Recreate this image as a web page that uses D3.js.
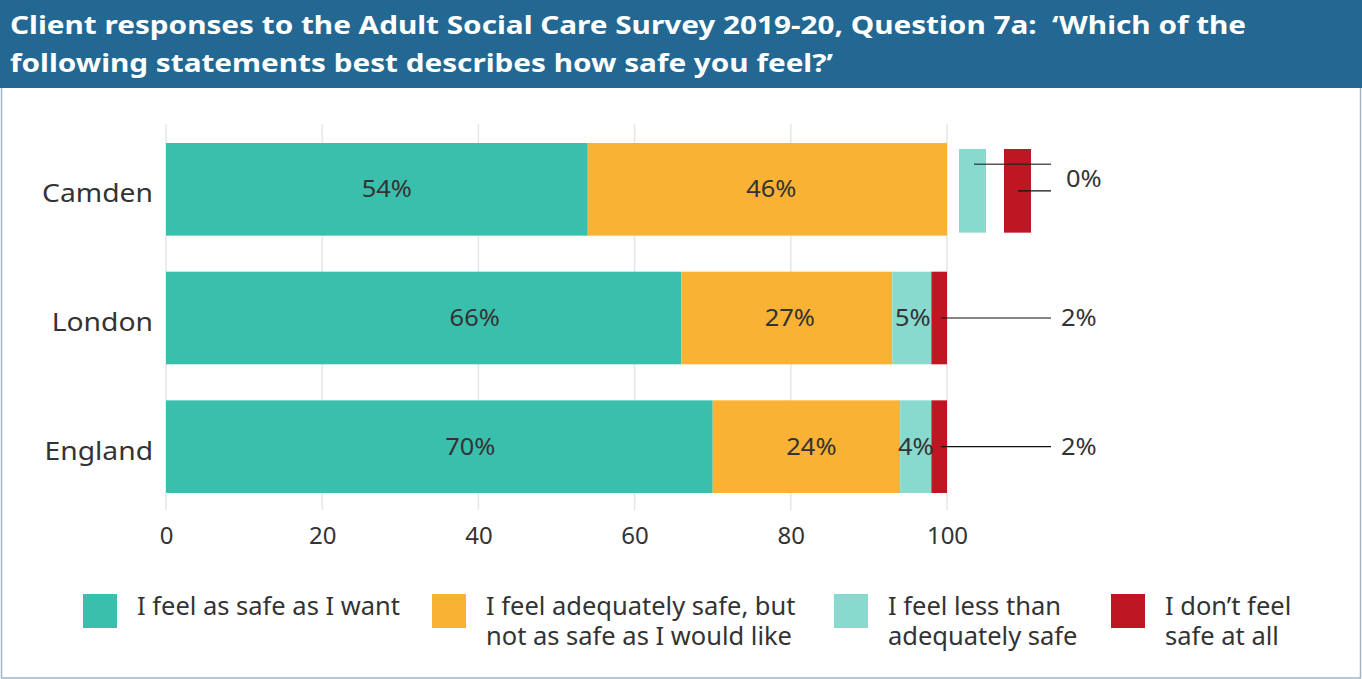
<!DOCTYPE html>
<html>
<head>
<meta charset="utf-8">
<script src="https://cdn.jsdelivr.net/npm/d3@7"></script>
<style>
  html, body { margin: 0; padding: 0; background: #fff; }
  svg { display: block; font-family: "Noto Sans", "Open Sans", sans-serif; }
</style>
</head>
<body>
<svg id="chart" width="1362" height="679"></svg>
<script>
// Survey responses, percentages per area
const areas = ["Camden", "London", "England"];
const seriesNames = [
  "I feel as safe as I want",
  "I feel adequately safe, but not as safe as I would like",
  "I feel less than adequately safe",
  "I don\u2019t feel safe at all"
];
const legendLines = [
  ["I feel as safe as I want"],
  ["I feel adequately safe, but", "not as safe as I would like"],
  ["I feel less than", "adequately safe"],
  ["I don\u2019t feel", "safe at all"]
];
const safeAsWant   = [54, 66, 70];
const adequately   = [46, 27, 24];
const lessThan     = [0, 5, 4];
const notSafe      = [0, 2, 2];
const xTicks = [0, 20, 40, 60, 80, 100];
const colors = ["#3bbfad", "#f9b233", "#88dace", "#be1622"];

const titleLines = [
  "Client responses to the Adult Social Care Survey 2019-20, Question 7a:  \u2018Which of the",
  "following statements best describes how safe you feel?\u2019"
];

// horizontal label nudges (px) per series, per area
const labelNudge = [[10, 51, 31], [4, 3, 5], [0, 1, 0]];

const svg = d3.select("#chart");
const W = 1362, H = 679;

// widen glyph runs a little so the house typeface proportions are kept
function widen(sel, k) {
  sel.each(function () {
    const w = this.getComputedTextLength();
    d3.select(this).attr("textLength", w * k).attr("lengthAdjust", "spacingAndGlyphs");
  });
}

// frame + title band
svg.append("rect").attr("x", 1.5).attr("y", 1).attr("width", W - 3).attr("height", H - 2)
  .attr("fill", "#fff").attr("stroke", "#9fb6c8").attr("stroke-width", 1.5);
svg.append("rect").attr("x", 0).attr("y", 0).attr("width", W).attr("height", 88).attr("fill", "#236892");
const title = svg.selectAll("text.title").data(titleLines).join("text")
  .attr("class", "title")
  .attr("x", 10).attr("y", (d, i) => 34 + i * 38)
  .attr("fill", "#fff").attr("font-weight", 700).attr("font-size", 25.5)
  .style("white-space", "pre")
  .text(d => d);
widen(title, 1.165);

const x = d3.scaleLinear().domain([0, 100]).range([166, 947]);
const y = d3.scaleBand().domain(areas).range([125, 511]).paddingInner(0.28).paddingOuter(0.14);

// grid
svg.append("g").selectAll("line").data(xTicks).join("line")
  .attr("x1", d => x(d)).attr("x2", d => x(d))
  .attr("y1", 124).attr("y2", 510)
  .attr("stroke", "#e6e6e6").attr("stroke-width", 1.5);

// x axis
const xAxis = svg.append("g").attr("transform", "translate(0,510)")
  .call(d3.axisBottom(x).tickValues(xTicks).tickSize(0).tickPadding(17));
xAxis.select(".domain").remove();
xAxis.selectAll("text").attr("font-size", 24).attr("fill", "#333").attr("font-family", "Noto Sans, sans-serif");

// y axis
const yAxis = svg.append("g").attr("transform", "translate(166,0)")
  .call(d3.axisLeft(y).tickSize(0).tickPadding(13));
yAxis.select(".domain").remove();
yAxis.selectAll("text").attr("font-size", 25).attr("dy", "0.52em")
  .attr("fill", "#333").attr("font-family", "Noto Sans, sans-serif");
widen(yAxis.selectAll("text"), 1.13);

// stacked data
const rows = areas.map((a, i) => ({
  area: a,
  s0: safeAsWant[i], s1: adequately[i], s2: lessThan[i], s3: notSafe[i]
}));
const stack = d3.stack().keys(["s0", "s1", "s2", "s3"])(rows);

const layers = svg.append("g").selectAll("g").data(stack).join("g")
  .attr("fill", (d, i) => colors[i]);
layers.selectAll("rect").data(d => d).join("rect")
  .attr("x", d => x(d[0]))
  .attr("y", d => y(d.data.area))
  .attr("width", d => x(d[1]) - x(d[0]))
  .attr("height", y.bandwidth());

// inline value labels (first three segments, where present)
const labelG = svg.append("g");
stack.slice(0, 3).forEach((layer, si) => {
  layer.forEach((d, ai) => {
    const v = d[1] - d[0];
    if (v <= 0) return;
    labelG.append("text")
      .attr("class", "val")
      .attr("x", (x(d[0]) + x(d[1])) / 2 + labelNudge[si][ai])
      .attr("y", y(d.data.area) + y.bandwidth() / 2)
      .attr("dy", "0.33em").attr("text-anchor", "middle")
      .attr("font-size", 24).attr("fill", "#333")
      .text(v + "%");
  });
});

// leader lines for the thin red segments
const calloutX = 1051;
stack[3].forEach(d => {
  const v = d[1] - d[0];
  if (v <= 0) return;
  const cy = y(d.data.area) + y.bandwidth() / 2;
  labelG.append("line").attr("x1", x(d[0]) + 10).attr("x2", calloutX)
    .attr("y1", cy).attr("y2", cy).attr("stroke", "#111").attr("stroke-width", 1.2);
  labelG.append("text").attr("class", "val").attr("x", calloutX + 10).attr("y", cy).attr("dy", "0.35em")
    .attr("font-size", 24).attr("fill", "#333").text(v + "%");
});

// Camden: zero-value markers for the two smaller categories
const cTop = y("Camden") + 6, cH = y.bandwidth() - 9;
const zeroMarks = [{c: colors[2], x0: 959}, {c: colors[3], x0: 1004}];
svg.append("g").selectAll("rect").data(zeroMarks).join("rect")
  .attr("x", d => d.x0).attr("y", cTop).attr("width", 27).attr("height", cH)
  .attr("fill", d => d.c);
const cMid = y("Camden") + y.bandwidth() / 2;
svg.append("line").attr("x1", 974).attr("x2", calloutX).attr("y1", cMid - 25).attr("y2", cMid - 25)
  .attr("stroke", "#222").attr("stroke-opacity", 0.75).attr("stroke-width", 1.5);
svg.append("line").attr("x1", 1018).attr("x2", calloutX).attr("y1", cMid + 1.5).attr("y2", cMid + 1.5)
  .attr("stroke", "#111").attr("stroke-width", 1.2);
svg.append("text").attr("class", "val").attr("x", 1066).attr("y", cMid - 11).attr("dy", "0.35em")
  .attr("font-size", 24).attr("fill", "#333")
  .text(Math.max(lessThan[0], notSafe[0]) + "%");
widen(svg.selectAll("text.val"), 1.06);

// legend
const legX = [83, 432, 834, 1111];
const leg = svg.append("g").selectAll("g").data(seriesNames).join("g")
  .attr("transform", (d, i) => `translate(${legX[i]},594)`);
leg.append("rect").attr("width", 34).attr("height", 34).attr("fill", (d, i) => colors[i]);
leg.selectAll("text").data((d, i) => legendLines[i]).join("text")
  .attr("x", 54).attr("y", (d, j) => 21 + j * 30)
  .attr("font-size", 24.5).attr("fill", "#333")
  .text(d => d);
widen(leg.selectAll("text"), 1.04);
</script>
</body>
</html>
